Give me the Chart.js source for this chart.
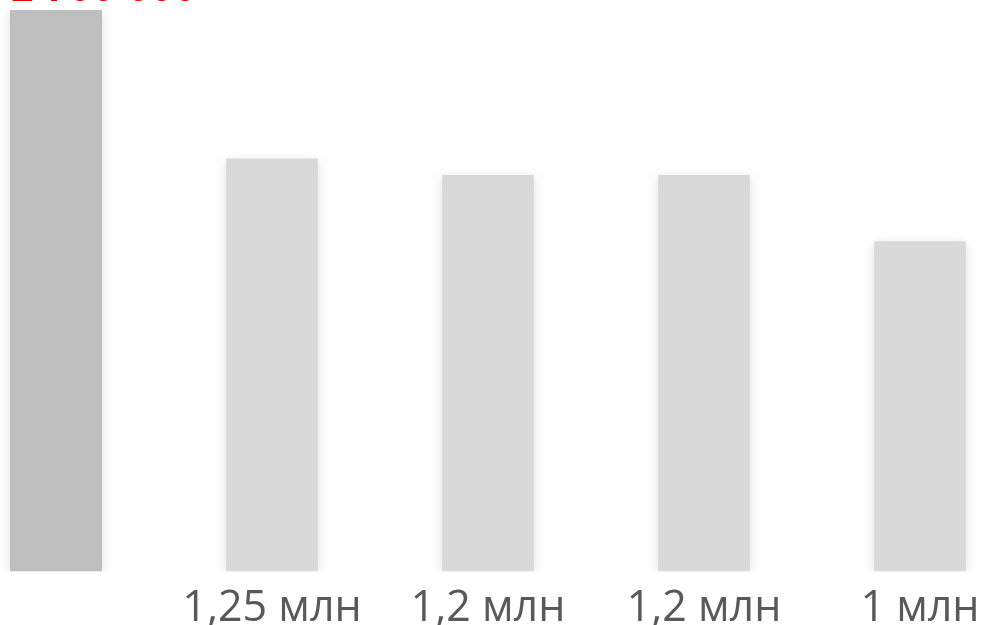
<!DOCTYPE html>
<html>
<head>
<meta charset="utf-8">
<script src="https://cdn.jsdelivr.net/npm/chart.js@4.4.1/dist/chart.umd.min.js"></script>
<style>
  html, body { margin: 0; padding: 0; background: #fff; overflow: hidden; width: 984px; height: 625px; }
  #wrap { position: absolute; left: -52px; top: 0; width: 1080px; height: 639px; }
</style>
</head>
<body>
<div id="wrap"><canvas id="chart"></canvas></div>
<script>
const categories = ['', '1,25 млн', '1,2 млн', '1,2 млн', '1 млн'];
const values = [1.7, 1.25, 1.2, 1.2, 1.0];
const barColors = ['#bfbfbf', '#d9d9d9', '#d9d9d9', '#d9d9d9', '#d9d9d9'];
const topLabel = '1 700 000';

const shadowPlugin = {
  id: 'barShadow',
  beforeDatasetDraw(chart) {
    const c = chart.ctx;
    c.save();
    c.shadowColor = 'rgba(0,0,0,0.12)';
    c.shadowBlur = 10;
    c.shadowOffsetX = 0;
    c.shadowOffsetY = 2;
  },
  afterDatasetDraw(chart) {
    chart.ctx.restore();
  }
};

const topLabelPlugin = {
  id: 'topLabel',
  afterDatasetsDraw(chart) {
    const c = chart.ctx;
    const bar = chart.getDatasetMeta(0).data[0];
    c.save();
    c.fillStyle = '#e00000';
    c.font = 'bold 42px "Liberation Sans", Arial, sans-serif';
    c.textAlign = 'left';
    c.textBaseline = 'alphabetic';
    c.fillText(topLabel, bar.x - bar.width / 2, bar.y - 9);
    c.restore();
  }
};

const ctx = document.getElementById('chart').getContext('2d');
new Chart(ctx, {
  type: 'bar',
  data: {
    labels: categories,
    datasets: [{
      data: values,
      backgroundColor: barColors,
      borderWidth: 0,
      barPercentage: 0.852,
      categoryPercentage: 0.5
    }]
  },
  options: {
    responsive: true,
    maintainAspectRatio: false,
    animation: false,
    layout: { padding: { top: 10, left: 0, right: 0, bottom: 0 } },
    plugins: { legend: { display: false }, tooltip: { enabled: false } },
    scales: {
      x: {
        grid: { display: false },
        border: { display: false },
        ticks: {
          color: '#595959',
          padding: 4,
          maxRotation: 0,
          autoSkip: false,
          font: { family: '"Liberation Sans Narrow", "Open Sans", sans-serif', size: 43 }
        }
      },
      y: {
        display: false,
        min: 0,
        max: 1.7
      }
    }
  },
  plugins: [shadowPlugin, topLabelPlugin]
});
</script>
</body>
</html>
